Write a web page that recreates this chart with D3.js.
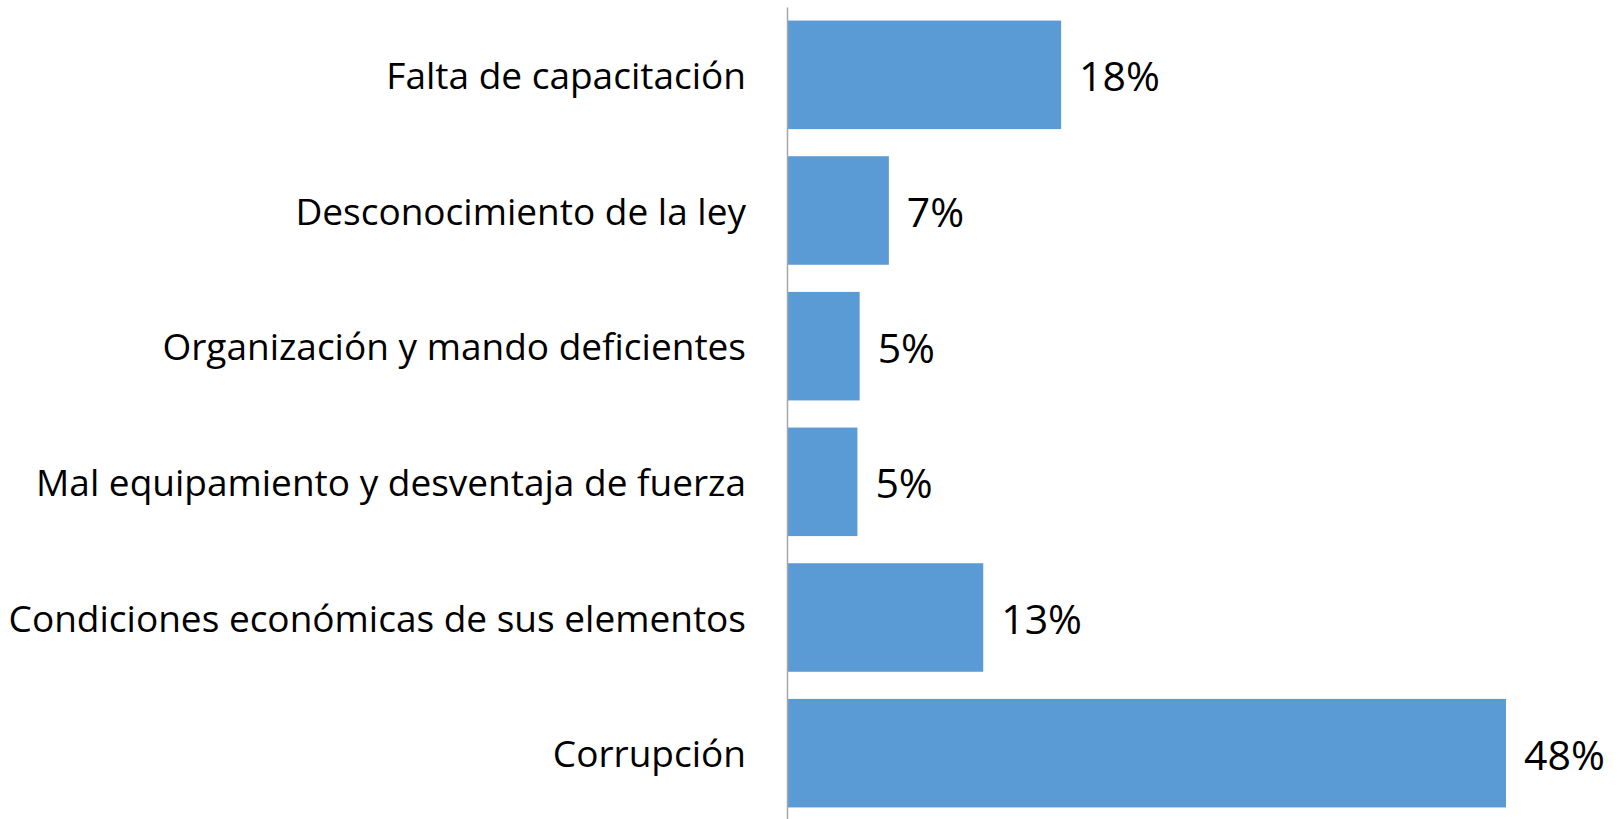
<!DOCTYPE html>
<html lang="es">
<head>
    <meta charset="UTF-8">
    <title>Causas</title>
    <script src="https://d3js.org/d3.v7.min.js"></script>
    <style>
        body { margin: 0; background: #fff; }
        svg { display: block; font-family: 'Open Sans', sans-serif; }
        .axis { font-family: 'Open Sans', sans-serif; }
        .axis .domain { stroke: #a6a6a6; stroke-width: 1.5; }
        .axis text { font-size: 37px; fill: #000; }
        .value { font-size: 41px; fill: #000; }
    </style>
</head>
<body>
<div id="chart"></div>
<script>
    // causas y porcentajes
    var categories = [
        "Falta de capacitación",
        "Desconocimiento de la ley",
        "Organización y mando deficientes",
        "Mal equipamiento y desventaja de fuerza",
        "Condiciones económicas de sus elementos",
        "Corrupción"
    ];
    var values = [18.3, 6.8, 4.85, 4.7, 13.1, 48.0];

    var width = 1620, height = 819;

    var svg = d3.select("#chart")
        .append("svg")
        .attr("width", width)
        .attr("height", height);

    var x = d3.scaleLinear()
        .domain([0, 48])
        .range([787, 1506]);

    var y = d3.scaleBand()
        .domain(categories)
        .range([7, 821])
        .paddingInner(0.2)
        .paddingOuter(0.1);

    var rows = categories.map((c, i) => ({ name: c, value: values[i] }));

    svg.selectAll("rect.bar")
        .data(rows)
        .enter().append("rect")
        .attr("class", "bar")
        .attr("x", x(0))
        .attr("y", d => y(d.name))
        .attr("width", d => x(d.value) - x(0))
        .attr("height", y.bandwidth())
        .attr("fill", "#5b9bd5");

    // eje vertical con las etiquetas
    svg.append("g")
        .attr("class", "axis")
        .attr("transform", "translate(" + x(0) + ",0)")
        .call(d3.axisLeft(y).tickSize(0).tickSizeOuter(0).tickPadding(41))
        .selectAll("text")
        .attr("dy", "0.38em");

    svg.selectAll("text.value")
        .data(rows)
        .enter().append("text")
        .attr("class", "value")
        .attr("x", d => x(d.value) + 18)
        .attr("y", d => y(d.name) + y.bandwidth() / 2)
        .attr("dy", "0.4em")
        .text(d => Math.round(d.value) + "%");
</script>
</body>
</html>
